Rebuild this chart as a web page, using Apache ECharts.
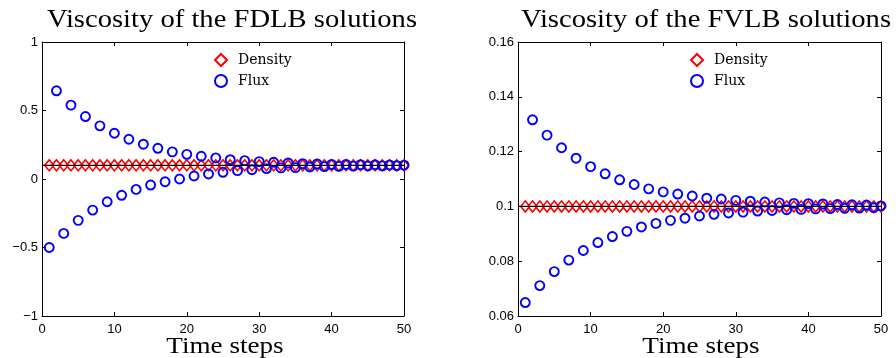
<!DOCTYPE html>
<html>
<head>
<meta charset="utf-8">
<script src="https://cdn.jsdelivr.net/npm/echarts@6/dist/echarts.min.js"></script>
<style>
  html, body { margin: 0; padding: 0; background: #ffffff; }
  #chart { width: 896px; height: 358px; }
</style>
</head>
<body>
<div id="chart"></div>
<script>
// Time steps on the horizontal axis
const steps = [1, 2, 3, 4, 5, 6, 7, 8, 9, 10, 11, 12, 13, 14, 15, 16, 17, 18, 19, 20,
  21, 22, 23, 24, 25, 26, 27, 28, 29, 30, 31, 32, 33, 34, 35, 36, 37, 38, 39, 40,
  41, 42, 43, 44, 45, 46, 47, 48, 49, 50];

// Reference viscosity (drawn as a black line across each panel)
const exactViscosity = 0.1;
const stepRange = [0, 50];

// FDLB panel
const densityFDLB = [0.1, 0.1, 0.1, 0.1, 0.1, 0.1, 0.1, 0.1, 0.1, 0.1,
  0.1, 0.1, 0.1, 0.1, 0.1, 0.1, 0.1, 0.1, 0.1, 0.1,
  0.1, 0.1, 0.1, 0.1, 0.1, 0.1, 0.1, 0.1, 0.1, 0.1,
  0.1, 0.1, 0.1, 0.1, 0.1, 0.1, 0.1, 0.1, 0.1, 0.1,
  0.1, 0.1, 0.1, 0.1, 0.1, 0.1, 0.1, 0.1, 0.1, 0.1];
const fluxFDLB = [-0.5, 0.644, -0.397, 0.539, -0.302, 0.456, -0.227, 0.388, -0.166, 0.334,
  -0.119, 0.290, -0.076, 0.254, -0.044, 0.224, -0.020, 0.198, 0.000, 0.180,
  0.022, 0.166, 0.037, 0.154, 0.049, 0.141, 0.061, 0.134, 0.068, 0.127,
  0.076, 0.122, 0.081, 0.117, 0.083, 0.112, 0.088, 0.110, 0.090, 0.107,
  0.092, 0.106, 0.094, 0.105, 0.095, 0.104, 0.096, 0.103, 0.097, 0.101];

// FVLB panel
const densityFVLB = [0.1, 0.1, 0.1, 0.1, 0.1, 0.1, 0.1, 0.1, 0.1, 0.1,
  0.1, 0.1, 0.1, 0.1, 0.1, 0.1, 0.1, 0.1, 0.1, 0.1,
  0.1, 0.1, 0.1, 0.1, 0.1, 0.1, 0.1, 0.1, 0.1, 0.1,
  0.1, 0.1, 0.1, 0.1, 0.1, 0.1, 0.1, 0.1, 0.1, 0.1,
  0.1, 0.1, 0.1, 0.1, 0.1, 0.1, 0.1, 0.1, 0.1, 0.1];
const fluxFVLB = [0.0649, 0.1316, 0.0711, 0.1260, 0.0762, 0.1214, 0.0804, 0.1176, 0.0839, 0.1145,
  0.0868, 0.1119, 0.0890, 0.1097, 0.0909, 0.1080, 0.0925, 0.1064, 0.0938, 0.1053,
  0.0949, 0.1045, 0.0957, 0.1038, 0.0965, 0.1030, 0.0971, 0.1027, 0.0976, 0.1022,
  0.0979, 0.1019, 0.0983, 0.1016, 0.0985, 0.1013, 0.0988, 0.1011, 0.0989, 0.1010,
  0.0991, 0.1009, 0.0992, 0.1007, 0.0993, 0.1006, 0.0994, 0.1005, 0.0995, 0.1002];

const titles = ['Viscosity of the FDLB solutions', 'Viscosity of the FVLB solutions'];
const xAxisName = 'Time steps';
const legendNames = ['Density', 'Flux'];

const serif = '"Liberation Serif", "DejaVu Serif", serif';
const wideSerif = '"DejaVu Serif", serif';
const sans = '"Liberation Sans", Arial, sans-serif';

function pairs(ys) { return steps.map((t, i) => [t, ys[i]]); }

function fmtTick(v) {
  const s = String(+v.toFixed(3));
  return s.replace('-', '\u2212');
}

const lineStyleBlack = { color: '#000', width: 1 };

function makeAxes(gridIndex, yMin, yMax, yInterval) {
  const xBase = {
    gridIndex, type: 'value', min: stepRange[0], max: stepRange[1], interval: 10,
    splitLine: { show: false },
    axisLine: { show: true, onZero: false, lineStyle: lineStyleBlack },
    axisTick: { show: true, inside: true, length: 4, lineStyle: lineStyleBlack }
  };
  const yBase = {
    gridIndex, type: 'value', min: yMin, max: yMax, interval: yInterval,
    splitLine: { show: false },
    axisLine: { show: true, onZero: false, lineStyle: lineStyleBlack },
    axisTick: { show: true, inside: true, length: 4, lineStyle: lineStyleBlack }
  };
  return {
    x: [
      Object.assign({}, xBase, {
        position: 'bottom',
        axisLabel: { color: '#000', fontFamily: sans, fontSize: 13, margin: 7, formatter: fmtTick }
      }),
      Object.assign({}, xBase, { position: 'top', axisLabel: { show: false } })
    ],
    y: [
      Object.assign({}, yBase, {
        position: 'left',
        axisLabel: { color: '#000', fontFamily: sans, fontSize: 13, margin: 4, formatter: fmtTick }
      }),
      Object.assign({}, yBase, { position: 'right', axisLabel: { show: false } })
    ]
  };
}

const a0 = makeAxes(0, -1, 1, 0.5);
const a1 = makeAxes(1, 0.06, 0.16, 0.02);

function panelSeries(xi, yi, density, flux) {
  return [
    {
      name: legendNames[0], type: 'scatter', xAxisIndex: xi, yAxisIndex: yi,
      symbol: 'diamond', symbolSize: [9, 11],
      itemStyle: { color: 'rgba(0,0,0,0)', borderColor: '#ff0000', borderWidth: 1.6, opacity: 1 },
      data: pairs(density), z: 2, silent: true
    },
    {
      name: legendNames[1], type: 'scatter', xAxisIndex: xi, yAxisIndex: yi,
      symbol: 'circle', symbolSize: 9,
      itemStyle: { color: 'rgba(0,0,0,0)', borderColor: '#0000ff', borderWidth: 1.9, opacity: 1 },
      data: pairs(flux), z: 3, silent: true
    },
    {
      name: 'exact', type: 'line', xAxisIndex: xi, yAxisIndex: yi,
      showSymbol: false, symbol: 'none',
      lineStyle: { color: '#000', width: 1.3 },
      data: [[stepRange[0], exactViscosity], [stepRange[1], exactViscosity]],
      z: 4, silent: true
    }
  ];
}

function legendAt(left) {
  return {
    left, top: 53, orient: 'vertical', padding: 0,
    data: legendNames, itemWidth: 12, itemHeight: 12, itemGap: 7,
    selectedMode: false,
    textStyle: { color: '#000', fontFamily: wideSerif, fontSize: 14, padding: [0, 0, 0, 6] }
  };
}

// Serif headings, stretched slightly to the width of the typeset originals
function heading(text, cx, cy, size, stretch) {
  return {
    type: 'text', x: cx, y: cy, scaleX: stretch, silent: true,
    style: {
      text, fill: '#000', align: 'center', verticalAlign: 'middle',
      font: 'normal ' + size + 'px ' + serif
    }
  };
}

const chart = echarts.init(document.getElementById('chart'), null, { renderer: 'canvas' });
chart.setOption({
  animation: false,
  backgroundColor: '#ffffff',
  legend: [legendAt(214), legendAt(690)],
  grid: [
    { left: 42, top: 42, width: 362, height: 274, containLabel: false, outerBoundsMode: 'none' },
    { left: 518, top: 42, width: 363, height: 274, containLabel: false, outerBoundsMode: 'none' }
  ],
  xAxis: a0.x.concat(a1.x),
  yAxis: a0.y.concat(a1.y),
  series: panelSeries(0, 0, densityFDLB, fluxFDLB).concat(panelSeries(2, 2, densityFVLB, fluxFVLB)),
  graphic: [
    heading(titles[0], 232, 20, 26, 1.1),
    heading(titles[1], 706, 20, 26, 1.1),
    heading(xAxisName, 225, 347, 24, 1.13),
    heading(xAxisName, 701, 347, 24, 1.13)
  ]
});
</script>
</body>
</html>
